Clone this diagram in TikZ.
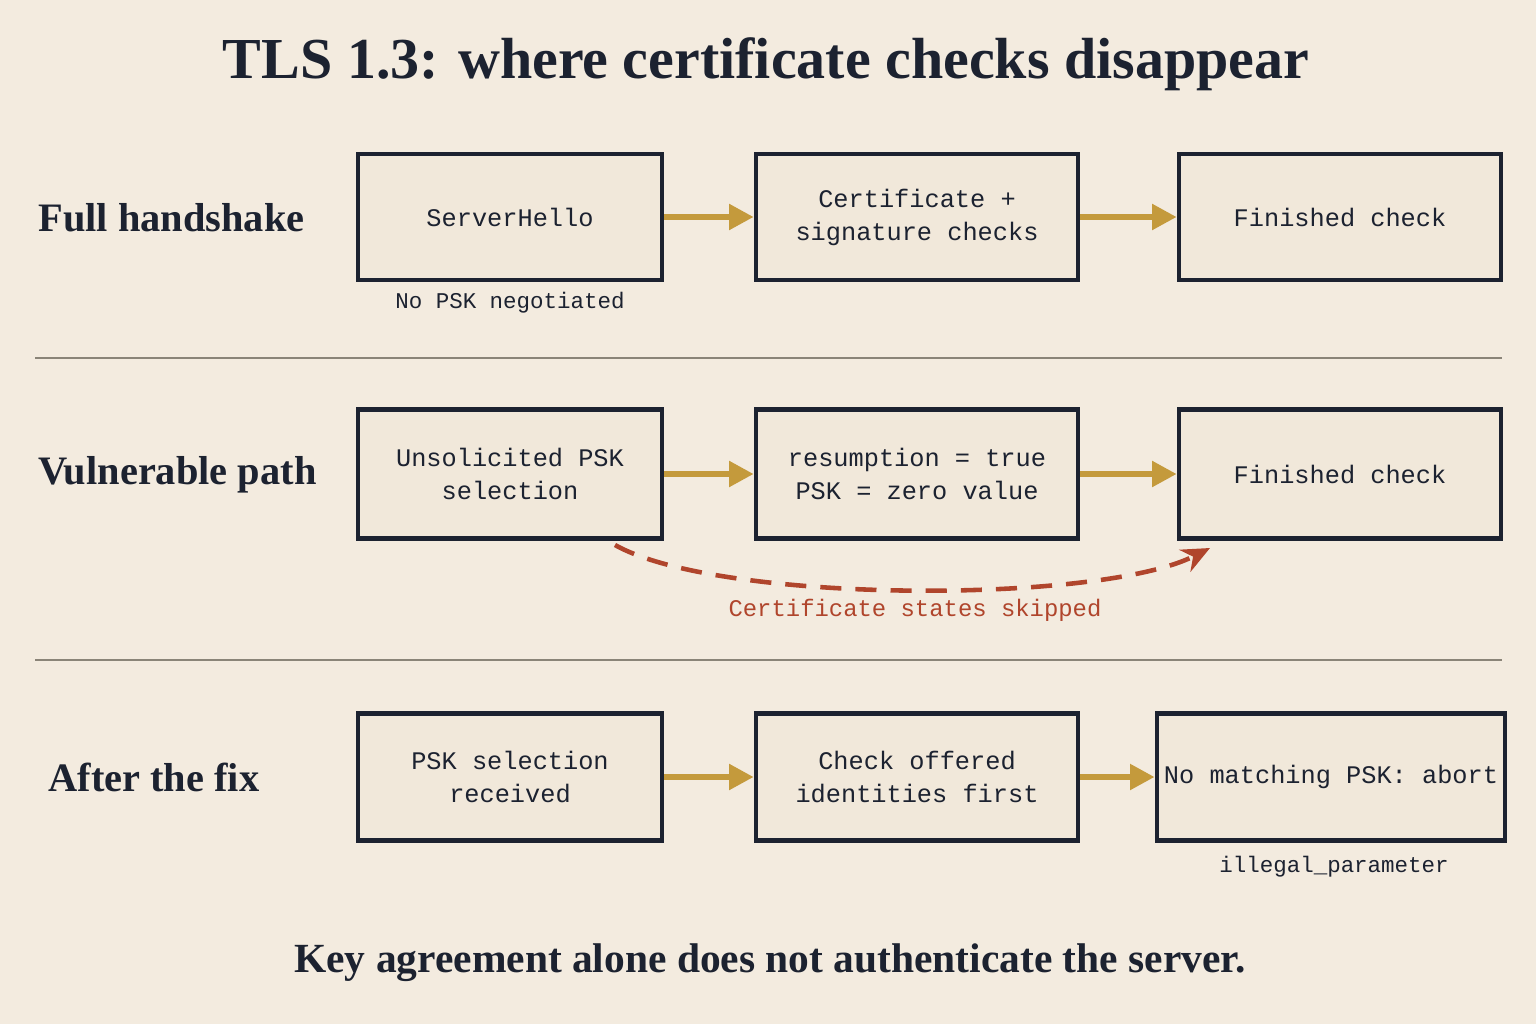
\documentclass[tikz,border=0pt]{standalone}
\usepackage{fontspec}
\setmainfont{Liberation Serif}
\setmonofont{Liberation Mono}
\usetikzlibrary{arrows.meta}
\definecolor{paper}{HTML}{F3EBDF}
\definecolor{boxfill}{HTML}{F1E8DA}
\definecolor{ink}{HTML}{1C2230}
\definecolor{gold}{HTML}{C49A3C}
\definecolor{rust}{HTML}{B0452C}
\definecolor{rule}{HTML}{8A8478}

\begin{document}
\begin{tikzpicture}[
  stage/.style={rectangle, draw=ink, line width=1.3pt, fill=boxfill, minimum height=1.26cm,
    inner xsep=2pt, align=center, font=\ttfamily\fontsize{7.2}{9.4}\selectfont, text=ink},
  row/.style={font=\bfseries\fontsize{11.5}{14}\selectfont, text=ink},
  note/.style={font=\ttfamily\fontsize{6.4}{8}\selectfont, text=ink},
  flow/.style={-{Triangle[length=7pt,width=7pt]}, line width=1.8pt, gold}]

\fill[paper] (0,0) rectangle (15.36,10.24);
\useasboundingbox (0,0) rectangle (15.36,10.24);

\node[font=\bfseries\fontsize{16.5}{19}\selectfont, text=ink] (title) at (7.66,9.60) {TLS 1.3: where certificate checks disappear};

% full handshake
\node[row, anchor=west] (r1) at (0.26,8.06) {Full handshake};
\node[stage, minimum width=3.04cm] (a1) at (5.10,8.07) {ServerHello};
\node[stage, minimum width=3.22cm] (a2) at (9.17,8.07) {Certificate +\\signature checks};
\node[stage, minimum width=3.22cm] (a3) at (13.40,8.07) {Finished check};
\node[note] (n1) at (5.10,7.21) {No PSK negotiated};
\draw[flow] (a1) -- (a2);
\draw[flow] (a2) -- (a3);

\draw[rule, line width=0.6pt] (0.35,6.66) -- (15.02,6.66);

% vulnerable path
\node[row, anchor=west] (r2) at (0.26,5.49) {Vulnerable path};
\node[stage, minimum width=3.04cm, minimum height=1.29cm] (b1) at (5.10,5.50) {Unsolicited PSK\\selection};
\node[stage, minimum width=3.22cm, minimum height=1.29cm] (b2) at (9.17,5.50) {resumption = true\\PSK = zero value};
\node[stage, minimum width=3.22cm, minimum height=1.29cm] (b3) at (13.40,5.50) {Finished check};
\draw[flow] (b1) -- (b2);
\draw[flow] (b2) -- (b3);
\coordinate (s1) at (6.15,4.79);
\coordinate (s2) at (12.10,4.76);
\draw[rust, line width=1.3pt, dash pattern=on 6pt off 4pt, -{Stealth[length=8pt,width=7pt]}]
  (s1) .. controls (7.2,4.20) and (11.0,4.20) .. (s2);
\node[note, text=rust, font=\ttfamily\fontsize{6.8}{8}\selectfont] (skip) at (9.15,4.14) {Certificate states skipped};

\draw[rule, line width=0.6pt] (0.35,3.64) -- (15.02,3.64);

% after the fix
\node[row, anchor=west] (r3) at (0.36,2.47) {After the fix};
\node[stage, minimum width=3.04cm, minimum height=1.27cm] (c1) at (5.10,2.47) {PSK selection\\received};
\node[stage, minimum width=3.22cm, minimum height=1.27cm] (c2) at (9.17,2.47) {Check offered\\identities first};
\node[stage, minimum width=3.39cm, minimum height=1.27cm] (c3) at (13.31,2.47) {No matching PSK: abort};
\node[note] (n3) at (13.34,1.57) {illegal\_parameter};
\draw[flow] (c1) -- (c2);
\draw[flow] (c2) -- (c3);

\node[font=\bfseries\fontsize{11.8}{14}\selectfont, text=ink] (moral) at (7.70,0.61) {Key agreement alone does not authenticate the server.};
\end{tikzpicture}
\end{document}
